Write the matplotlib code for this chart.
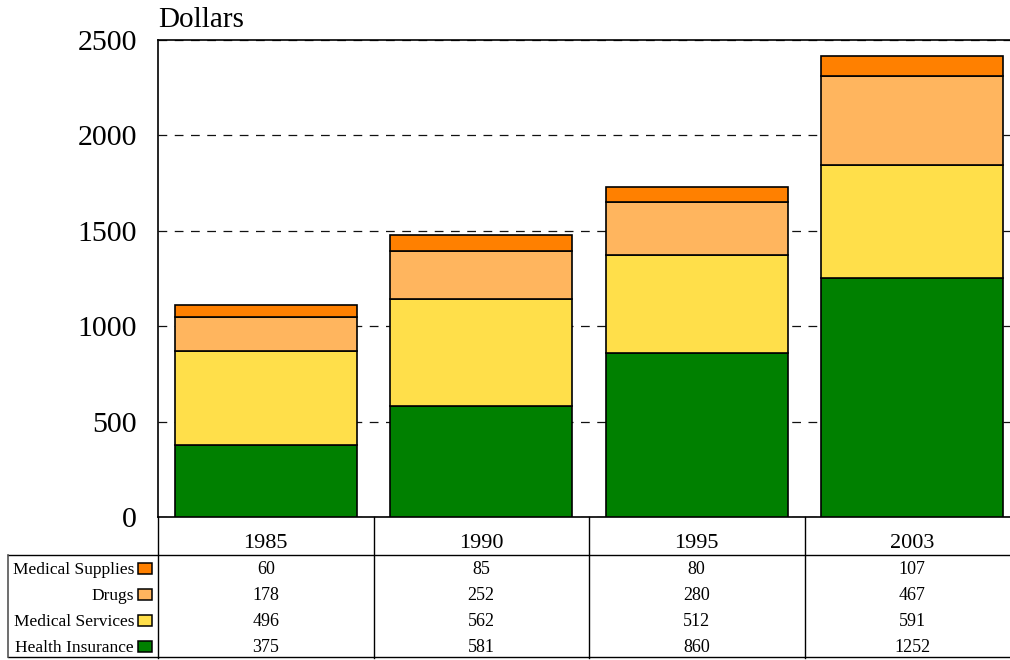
import matplotlib.pyplot as plt
from matplotlib.patches import Rectangle
import numpy as np

plt.rcParams["font.family"] = ["Liberation Serif", "DejaVu Serif"]

YEARS = ["1985", "1990", "1995", "2003"]
SERIES = ["Health Insurance", "Medical Services", "Drugs", "Medical Supplies"]
HEALTH_INSURANCE = [375, 581, 860, 1252]
MEDICAL_SERVICES = [496, 562, 512, 591]
DRUGS = [178, 252, 280, 467]
MEDICAL_SUPPLIES = [60, 85, 80, 107]
COLORS = ["#008000", "#FFDF4A", "#FFB55E", "#FF8000"]
Y_TICKS = [0, 500, 1000, 1500, 2000, 2500]

W, H = 1010, 660
fig = plt.figure(figsize=(W / 100, H / 100), dpi=100)

# main plot area (extends a little past the right edge, as in the source)
ax = fig.add_axes([158 / W, (H - 517) / H, (1020 - 158) / W, 477 / H])
x = np.arange(len(YEARS))
values = [HEALTH_INSURANCE, MEDICAL_SERVICES, DRUGS, MEDICAL_SUPPLIES]
bottom = np.zeros(len(YEARS))
for vals, color, name in zip(values, COLORS, SERIES):
    ax.bar(x, vals, width=0.845, bottom=bottom, color=color, edgecolor="black",
           linewidth=1.2, label=name, zorder=3)
    bottom += np.array(vals)

ax.set_xlim(-0.5, len(YEARS) - 0.5)
ax.set_ylim(0, 2500)
ax.set_yticks(Y_TICKS)
ax.set_xticks([])
ax.tick_params(axis="y", length=0, pad=15, labelsize=21.5)
ax.yaxis.grid(True, linestyle=(0, (7, 6)), color="#111111", linewidth=0.9, zorder=0)
ax.set_axisbelow(True)
for side in ["left", "top", "bottom"]:
    ax.spines[side].set_linewidth(1.2)
ax.spines["right"].set_visible(False)
ax.text(0, 1.015, "Dollars", transform=ax.transAxes, fontsize=21,
        ha="left", va="bottom")

# data table under the plot
tax = fig.add_axes([158 / W, 2 / H, (1020 - 158) / W, 141 / H])
tax.set_xlim(-0.5, len(YEARS) - 0.5)
tax.set_ylim(141, 0)
tax.axis("off")
label_left = -0.5 - 150 / 215.5
header_h = 38
row_h = 26

for i, year in enumerate(YEARS):
    tax.text(i, header_h / 2 + 8, year, ha="center", va="center", fontsize=16)
for i in range(len(YEARS) + 1):
    tax.plot([i - 0.5, i - 0.5], [0, 141], color="black", linewidth=1, clip_on=False)
tax.plot([label_left, 4.0], [header_h, header_h], color="black", linewidth=1, clip_on=False)
tax.plot([label_left, 4.0], [140, 140], color="black", linewidth=1, clip_on=False)
tax.plot([label_left, label_left], [header_h, 140], color="#555555", linewidth=1.2, clip_on=False)

rows = list(zip(SERIES, values, COLORS))[::-1]
for r, (name, vals, color) in enumerate(rows):
    yc = header_h + row_h * r + row_h / 2 + 1.5
    for i, v in enumerate(vals):
        tax.text(i, yc, str(v), ha="center", va="center", fontsize=13)
    tax.add_patch(Rectangle((-0.5 - 20 / 215.5, yc - 6.5), 14 / 215.5, 11,
                            facecolor=color, edgecolor="black", linewidth=1.1,
                            clip_on=False))
    tax.text(-0.5 - 24 / 215.5, yc, name, ha="right", va="center", fontsize=12.5)

fig.savefig("out.png", dpi=100)
